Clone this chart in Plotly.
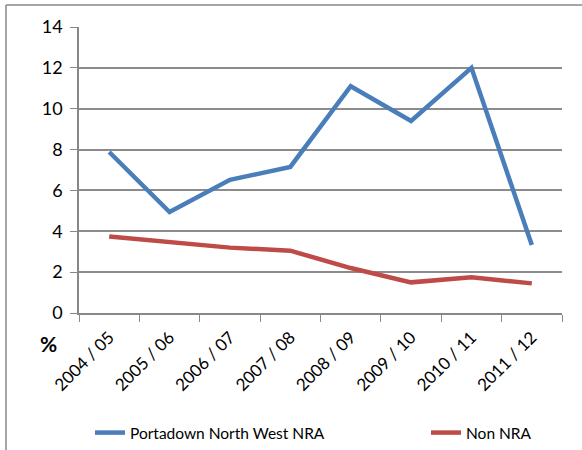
import plotly.graph_objects as go

categories = ["2004 / 05", "2005 / 06", "2006 / 07", "2007 / 08", "2008 / 09", "2009 / 10", "2010 / 11", "2011 / 12"]
portadown = [7.88, 4.94, 6.52, 7.15, 11.1, 9.4, 12.0, 3.33]
non_nra = [3.75, 3.5, 3.2, 3.05, 2.2, 1.5, 1.75, 1.45]
y_ticks = [0, 2, 4, 6, 8, 10, 12, 14]

FONT = "Lato"
fig = go.Figure()
fig.add_trace(go.Scatter(x=categories, y=portadown, mode="lines", name="Portadown North West NRA",
                         line=dict(color="#4A7EBB", width=4.5), legend="legend"))
fig.add_trace(go.Scatter(x=categories, y=non_nra, mode="lines", name="Non NRA",
                         line=dict(color="#BE4B48", width=4.5), legend="legend2"))

L, R, T, B = 79, 20, 27, 137
W, H = 582, 450
pw, ph = W - L - R, H - T - B

def px2x(px):
    return (px - L) / pw

def py2y(py):
    return (H - B - py) / ph

leg_common = dict(orientation="h", yanchor="middle", xanchor="left", font=dict(size=15.5),
                  bgcolor="rgba(0,0,0,0)")

fig.update_layout(
    width=W, height=H,
    margin=dict(l=L, r=R, t=T, b=B, autoexpand=False),
    paper_bgcolor="white", plot_bgcolor="white",
    font=dict(family=FONT, size=18, color="black"),
    showlegend=True,
    legend=dict(x=px2x(90), y=py2y(433), **leg_common),
    legend2=dict(x=px2x(426), y=py2y(433), **leg_common),
    xaxis=dict(type="category", tickangle=-45, showgrid=False, showline=True, linecolor="#888888",
               linewidth=1.5, ticks="outside", tickson="boundaries", ticklen=7, tickcolor="#888888",
               tickfont=dict(size=17), range=[-0.5, 7.5], automargin=False, ticklabelstandoff=6),
    yaxis=dict(range=[0, 14], tickvals=y_ticks, showgrid=True, gridcolor="#8c8c8c", gridwidth=1.5,
               showline=True, linecolor="#888888", linewidth=1.5, ticks="outside", ticklen=7,
               tickcolor="#888888", tickfont=dict(size=18), zeroline=False, automargin=False,
               ticklabelstandoff=4),
    shapes=[
        dict(type="line", xref="paper", yref="paper", x0=px2x(6), x1=px2x(6), y0=py2y(5), y1=py2y(450),
             line=dict(color="#888888", width=1.5)),
        dict(type="line", xref="paper", yref="paper", x0=px2x(6), x1=px2x(582), y0=py2y(5), y1=py2y(5),
             line=dict(color="#888888", width=1.5)),
    ],
    annotations=[
        dict(text="<b>%</b>", xref="paper", yref="paper", x=px2x(48), y=py2y(343), showarrow=False,
             font=dict(size=21, family=FONT), xanchor="center", yanchor="middle"),
    ],
)

fig.write_html("out.html", config={"displayModeBar": False},
               post_script="document.body.style.margin='0';")
